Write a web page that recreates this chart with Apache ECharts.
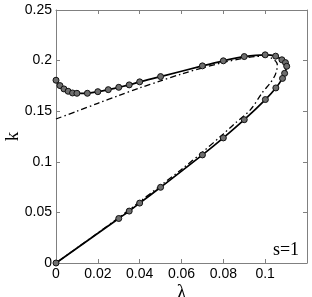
<!DOCTYPE html>
<html><head><meta charset="utf-8">
<script src="https://cdn.jsdelivr.net/npm/echarts@6/dist/echarts.min.js"></script>
<style>html,body{margin:0;padding:0;background:#fff}#c{width:312px;height:297px}</style>
</head><body><div id="c"></div>
<script>
// Solid curve with circle markers (lambda, k), traced along the loop
const solidLambda = [0, 0.0019, 0.0038, 0.0058, 0.0079, 0.010, 0.015, 0.020, 0.025, 0.030, 0.035, 0.040, 0.050, 0.070, 0.080, 0.090, 0.100, 0.105, 0.108, 0.1097, 0.1103, 0.1093, 0.1083, 0.1051, 0.1001, 0.090, 0.080, 0.070, 0.050, 0.040, 0.035, 0.030, 0];
const solidK      = [0.1806, 0.1753, 0.1720, 0.1697, 0.1680, 0.1677, 0.1677, 0.1693, 0.1713, 0.1736, 0.1760, 0.1790, 0.1842, 0.1948, 0.1998, 0.2040, 0.2057, 0.2044, 0.2008, 0.1980, 0.1944, 0.1874, 0.1824, 0.1730, 0.1615, 0.1416, 0.1236, 0.1068, 0.0748, 0.0592, 0.0513, 0.0440, 0];
// Dash-dot curve
const dashLambda = [0, 0.01, 0.02, 0.03, 0.04, 0.05, 0.06, 0.07, 0.08, 0.09, 0.095, 0.1, 0.103, 0.105, 0.1058, 0.1055, 0.1045, 0.1025, 0.0985, 0.093, 0.085, 0.08, 0.07, 0.06, 0.05, 0.04, 0.03, 0.02, 0.01, 0];
const dashK      = [0.1423, 0.1500, 0.1578, 0.1655, 0.1730, 0.1800, 0.1868, 0.1928, 0.1982, 0.2025, 0.2040, 0.2045, 0.2025, 0.1995, 0.1960, 0.1905, 0.1845, 0.1780, 0.1680, 0.1515, 0.1370, 0.1275, 0.1095, 0.0925, 0.0765, 0.0605, 0.0448, 0.0297, 0.0148, 0];
const xTickLabels = ['0', '0.02', '0.04', '0.06', '0.08', '0.1', ''];
const yTickLabels = ['0', '0.05', '0.1', '0.15', '0.2', '0.25'];

const zip = (a, b) => a.map((v, i) => [v, b[i]]);
const axisCol = '#808080';
const chart = echarts.init(document.getElementById('c'));
const common = {
  axisLine: {show: true, onZero: false, lineStyle: {color: axisCol, width: 1}},
  axisTick: {show: true, inside: true, length: 4, lineStyle: {color: axisCol}},
  splitLine: {show: false}
};
chart.setOption({
  animation: false,
  backgroundColor: '#fff',
  grid: {left: 56, top: 10, right: 5, bottom: 34, containLabel: false, outerBoundsMode: 'none'},
  xAxis: [
    Object.assign({type: 'value', min: 0, max: 0.12, interval: 0.02, position: 'bottom',
      name: 'λ', nameLocation: 'middle', nameGap: 21, nameMoveOverlap: false,
      nameTextStyle: {color: '#000', fontSize: 20, fontFamily: 'Liberation Serif', verticalAlign: 'top'},
      axisLabel: {color: '#000', fontSize: 14, fontFamily: 'Liberation Sans', margin: 4,
        formatter: (v) => xTickLabels[Math.round(v / 0.02)] ?? ''}}, common),
    Object.assign({type: 'value', min: 0, max: 0.12, interval: 0.02, position: 'top',
      axisLabel: {show: false}}, common)
  ],
  yAxis: [
    Object.assign({type: 'value', min: 0, max: 0.25, interval: 0.05, position: 'left',
      name: 'k', nameLocation: 'middle', nameRotate: 90, nameGap: 33, nameMoveOverlap: false,
      nameTextStyle: {color: '#000', fontSize: 19, fontFamily: 'Liberation Serif'},
      axisLabel: {color: '#000', fontSize: 14, fontFamily: 'Liberation Sans', margin: 4,
        formatter: (v) => yTickLabels[Math.round(v / 0.05)] ?? ''}}, common),
    Object.assign({type: 'value', min: 0, max: 0.25, interval: 0.05, position: 'right',
      axisLabel: {show: false}}, common)
  ],
  series: [
    {type: 'line', data: zip(dashLambda, dashK), smooth: 0.3, showSymbol: false,
      lineStyle: {color: '#000', width: 1.3, type: [6, 3, 1.5, 3]}, z: 2},
    {type: 'line', data: zip(solidLambda, solidK), smooth: 0.3, symbol: 'circle', symbolSize: 6,
      lineStyle: {color: '#000', width: 1.7},
      itemStyle: {color: '#6e6e6e', borderColor: '#111', borderWidth: 1}, z: 3}
  ],
  graphic: [
    {type: 'text', x: 286, y: 250,
      style: {text: 's=1', font: '18px "Liberation Serif"', fill: '#000', align: 'center', verticalAlign: 'middle'}}
  ]
});
</script></body></html>
